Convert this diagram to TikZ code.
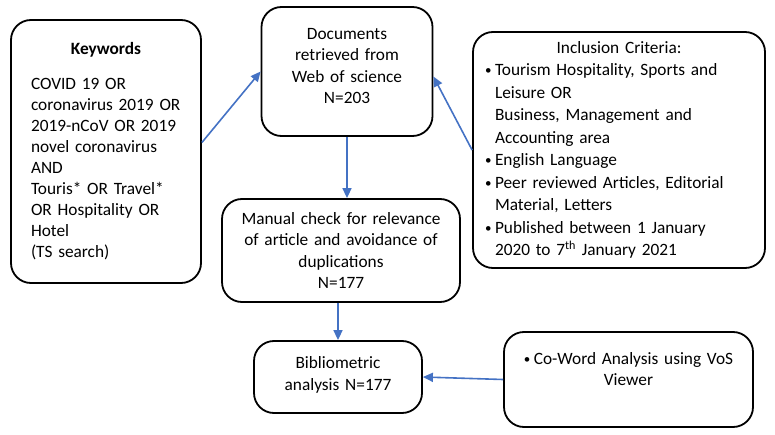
\documentclass[tikz,border=0pt]{standalone}
\usepackage{fontspec}
\setmainfont{Carlito}
\usetikzlibrary{arrows.meta}
\definecolor{arrowblue}{HTML}{4472C4}
\newcommand\bul{\makebox[10pt][l]{\raisebox{1pt}{\fontsize{13}{13}\selectfont\textbullet}}}
\newcommand\ind{\hspace*{10pt}}
\begin{document}
\begin{tikzpicture}[x=1pt,y=-1pt,
    every node/.style={font=\fontsize{17.3}{21.5}\selectfont},
    box/.style={draw,line width=1.8pt,rounded corners=20pt,inner ysep=0pt},
    link/.style={draw=arrowblue,line width=1.6pt,-{Triangle[length=10pt,width=9pt]}}]
  \useasboundingbox (0,0) rectangle (775,435);
  \draw
    (106,151.5) node[box,minimum width=190pt,minimum height=263pt,inner xsep=20pt,
      text width=150pt,align=left,
      font=\fontsize{17.3}{21}\selectfont] (kw){\makebox[150pt]{\textbf{Keywords}}\\[14pt]
      COVID 19 OR\\ coronavirus 2019 OR\\ 2019-nCoV OR 2019\\ novel coronavirus\\ AND\\
      Touris* OR Travel*\\ OR Hospitality OR\\ Hotel\\ (TS search)}
    (347,71.5) node[box,minimum width=171pt,minimum height=129pt,
      text width=150pt,align=center] (doc){Documents\\ retrieved from\\ Web of science\\ N=203\\[-10pt]\mbox{}}
    (619,150) node[box,minimum width=292pt,minimum height=236pt,inner xsep=12pt,
      text width=268pt,align=left,
      font=\fontsize{17.3}{22.5}\selectfont] (incl){\makebox[268pt]{Inclusion Criteria:}\\
      \bul Tourism Hospitality, Sports and\\ \ind Leisure OR\\ \ind Business, Management and\\
      \ind Accounting area\\ \bul English Language\\ \bul Peer reviewed Articles, Editorial\\
      \ind Material, Letters\\ \bul Published between 1 January\\
      \ind 2020 to 7\textsuperscript{th} January 2021}
    (341,250.5) node[box,minimum width=238pt,minimum height=103pt,
      text width=225pt,align=center] (man){Manual check for relevance\\ of article and avoidance of\\
      duplications\\ N=177}
    (338,377) node[box,minimum width=168pt,minimum height=72pt,
      text width=150pt,align=center] (bib){Bibliometric\\ analysis N=177\\[-14pt]\mbox{}}
    (628.5,379.5) node[box,minimum width=249pt,minimum height=95pt,inner xsep=8pt,
      text width=233pt,align=center] (cw){\bul Co-Word Analysis using VoS\\ Viewer\\ \mbox{}};
  \begin{scope}[link]
    \draw ([yshift=9pt]kw.east) to (doc.west);
    \draw (incl.west) to ([yshift=-5pt]doc.east);
    \draw (doc.south) to (doc.south |- man.north);
    \draw (bib.north |- man.south) to (bib.north);
    \draw (cw.west) to (bib.east);
  \end{scope}
\end{tikzpicture}
\end{document}
